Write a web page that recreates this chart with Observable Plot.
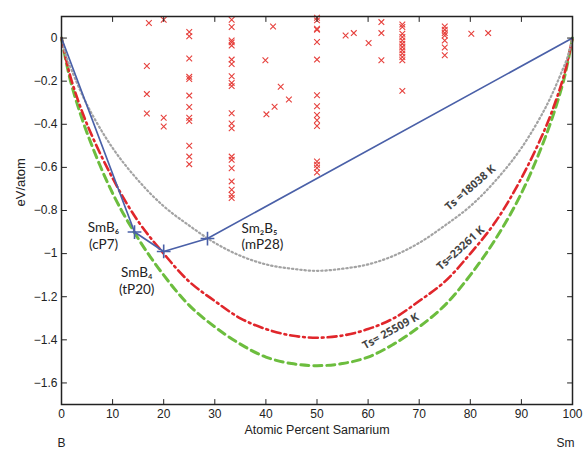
<!DOCTYPE html>
<html>
<head>
<meta charset="utf-8">
<script src="https://cdn.jsdelivr.net/npm/d3@7"></script>
<script src="https://cdn.jsdelivr.net/npm/@observablehq/plot@0.6"></script>
<style>
  body { margin: 0; background: #fff; }
  #chart svg { display: block; }
</style>
</head>
<body>
<div id="chart"></div>
<script>
// ---- tick labels ----
const xTicks = [0, 10, 20, 30, 40, 50, 60, 70, 80, 90, 100];
const yTicks = [0, -0.2, -0.4, -0.6, -0.8, -1, -1.2, -1.4, -1.6];

// ---- convex hull (ground states) ----
const hullPct    = [0, 14.29, 20, 28.57, 100];
const hullEnergy = [0, -0.90, -0.99, -0.93, 0];
const compounds = [
  {name: "SmB\u2086\n(cP7)",  pct: 14.29, energy: -0.90},
  {name: "SmB\u2084\n(tP20)", pct: 20,    energy: -0.99},
  {name: "Sm\u2082B\u2085\n(mP28)", pct: 28.57, energy: -0.93}
];

// ---- mixing curves ----
const curvePct = [0, 1, 2, 5, 10, 15, 20, 25, 30, 35, 40, 45, 50, 55, 60, 65, 70, 75, 80, 85, 90, 95, 98, 99, 100];
const gray18038 = [0, -0.09, -0.15, -0.31, -0.51, -0.66, -0.78, -0.87, -0.95, -1.01, -1.05, -1.07, -1.08, -1.07, -1.05, -1.01, -0.95, -0.87, -0.78, -0.66, -0.51, -0.31, -0.15, -0.09, 0];
const red23261  = [0, -0.11, -0.20, -0.40, -0.65, -0.85, -1.00, -1.13, -1.22, -1.30, -1.35, -1.38, -1.39, -1.38, -1.35, -1.30, -1.22, -1.13, -1.00, -0.85, -0.65, -0.40, -0.20, -0.11, 0];
const green25509 = [0, -0.12, -0.22, -0.44, -0.72, -0.93, -1.10, -1.24, -1.34, -1.42, -1.48, -1.51, -1.52, -1.51, -1.48, -1.42, -1.34, -1.24, -1.10, -0.93, -0.72, -0.44, -0.22, -0.12, 0];

// ---- other (hypothetical) structures, [percent Sm, eV/atom] ----
const structures = [
  [17.1, 0.07], [16.7, -0.13], [16.7, -0.26], [16.7, -0.35],
  [20, 0.085], [20, -0.37], [20, -0.41],
  [25, 0.028], [25, 0.008], [25, -0.095], [25, -0.18], [25, -0.19], [25, -0.267], [25, -0.32],
  [25, -0.37], [25, -0.385], [25, -0.50], [25, -0.55], [25, -0.585],
  [33.3, 0.085], [33.3, 0.051], [33.3, -0.011], [33.3, -0.02], [33.3, -0.035], [33.3, -0.10],
  [33.3, -0.12], [33.3, -0.177], [33.3, -0.208], [33.3, -0.223], [33.3, -0.349], [33.3, -0.396],
  [33.3, -0.419], [33.3, -0.55], [33.3, -0.565], [33.3, -0.604], [33.3, -0.665], [33.3, -0.704],
  [33.3, -0.727], [33.3, -0.742],
  [41.4, 0.054], [39.9, -0.103], [42.9, -0.226], [44.5, -0.285], [41.7, -0.319], [40.1, -0.354],
  [50, 0.094], [50, 0.082], [50, 0.043], [50, 0.039], [50, -0.018], [50, -0.10], [50, -0.265],
  [50, -0.316], [50, -0.357], [50, -0.381], [50, -0.408], [50, -0.573], [50, -0.588], [50, -0.603], [50, -0.624],
  [55.6, 0.012], [57.2, 0.023], [60.1, -0.023], [62.6, 0.074], [62.6, 0.023], [62.6, -0.103],
  [66.7, 0.063], [66.7, 0.051], [66.7, 0.02], [66.7, 0.005], [66.7, -0.011], [66.7, -0.026],
  [66.7, -0.042], [66.7, -0.057], [66.7, -0.072], [66.7, -0.088], [66.7, -0.103], [66.7, -0.245],
  [75, 0.054], [75, 0.039], [75, 0.023], [75, 0.012], [75, -0.011], [75, -0.044], [75, -0.08],
  [80.2, 0.02], [83.5, 0.023]
];

const curveLabels = [
  {text: "Ts =18038 K", pct: 80.0, energy: -0.695, angle: -41},
  {text: "Ts=23261 K",  pct: 78.1, energy: -0.975, angle: -42},
  {text: "Ts= 25509 K", pct: 64.4, energy: -1.36, angle: -29}
];
const endpoints = ["B", "Sm"];

// ---- build tables ----
const hull = hullPct.map((p, i) => ({pct: p, energy: hullEnergy[i]}));
const mk = (arr) => curvePct.map((p, i) => ({pct: p, energy: arr[i]}));
const grayC = mk(gray18038), redC = mk(red23261), greenC = mk(green25509);

const tickShape = {draw(ctx, l) { ctx.moveTo(0, 0); ctx.lineTo(0, -l); }};
const tickStyle = {length: 5, anchor: "start", shape: tickShape, stroke: "#222", strokeWidth: 1};
const fmt = d => d === 0 ? "0" : "\u2212" + Math.abs(d);
const labelFont = "Lato, 'Noto Sans', 'DejaVu Sans', sans-serif";
const curveFont = "'Open Sans', 'Noto Sans', sans-serif";

const chart = Plot.plot({
  width: 584,
  height: 451,
  marginLeft: 61,
  marginRight: 12,
  marginTop: 16,
  marginBottom: 47,
  style: {fontFamily: "'Liberation Sans', Arial, sans-serif", fontSize: "12px", color: "#222", background: "#fff"},
  x: {domain: [0, 100]},
  y: {domain: [-1.7, 0.1]},
  marks: [
    Plot.axisX({ticks: xTicks, tickSize: 0, tickPadding: 5, label: null, fontSize: 12}),
    Plot.axisY({ticks: yTicks, tickSize: 0, tickPadding: 4, label: null, fontSize: 12, tickFormat: fmt}),
    // curves
    Plot.line(greenC, {x: "pct", y: "energy", curve: "catmull-rom", stroke: "#6cbd3e", strokeWidth: 3, strokeDasharray: "8 5"}),
    Plot.line(redC, {x: "pct", y: "energy", curve: "catmull-rom", stroke: "#e0262b", strokeWidth: 2.6, strokeDasharray: "9 4 1.8 4"}),
    Plot.line(grayC, {x: "pct", y: "energy", curve: "catmull-rom", stroke: "#a3a3a3", strokeWidth: 2.2, strokeDasharray: "1.4 2.8"}),
    // structures
    Plot.dot(structures, {x: d => d[0], y: d => d[1], symbol: "times", r: 2.7, stroke: "#e6403c", strokeWidth: 1.1}),
    // hull
    Plot.line(hull, {x: "pct", y: "energy", stroke: "#4a60a8", strokeWidth: 1.7}),
    Plot.dot(compounds, {x: "pct", y: "energy", symbol: "plus", r: 4.5, stroke: "#4a60a8", strokeWidth: 1.6}),
    // compound labels
    Plot.text([compounds[0]], {x: "pct", y: "energy", text: "name", dx: -31, dy: 3, fontSize: 13.5, lineHeight: 1.24, fill: "#222", fontFamily: labelFont}),
    Plot.text([compounds[1]], {x: "pct", y: "energy", text: "name", dx: -27, dy: 29, fontSize: 13.5, lineHeight: 1.24, fill: "#222", fontFamily: labelFont}),
    Plot.text([compounds[2]], {x: "pct", y: "energy", text: "name", dx: 34, dy: -3, textAnchor: "start", fontSize: 13.5, lineHeight: 1.24, fill: "#222", fontFamily: labelFont}),
    // curve labels
    ...curveLabels.map(c => Plot.text([c], {x: "pct", y: "energy", text: "text", rotate: c.angle, fontSize: 11, fontWeight: "bold", fill: "#444", fontFamily: curveFont})),
    // frame and inward ticks
    Plot.frame({stroke: "#222", strokeWidth: 1.5}),
    Plot.vector(xTicks, {x: d => d, frameAnchor: "bottom", rotate: 0, ...tickStyle}),
    Plot.vector(xTicks, {x: d => d, frameAnchor: "top", rotate: 180, ...tickStyle}),
    Plot.vector(yTicks, {y: d => d, frameAnchor: "left", rotate: 90, ...tickStyle}),
    Plot.vector(yTicks, {y: d => d, frameAnchor: "right", rotate: -90, ...tickStyle}),
    // axis titles
    Plot.text(["Atomic Percent Samarium"], {frameAnchor: "bottom", dy: 29, fontSize: 12.5, fill: "#222"}),
    Plot.text(["eV/atom"], {frameAnchor: "left", dx: -41, dy: -4, rotate: -90, fontSize: 13, fill: "#222"}),
    Plot.text([{name: endpoints[0], pct: 0}], {x: "pct", text: "name", frameAnchor: "bottom", dy: 42, fontSize: 12, fill: "#222"}),
    Plot.text([{name: endpoints[1], pct: 100}], {x: "pct", text: "name", frameAnchor: "bottom", dy: 42, dx: 2, textAnchor: "end", fontSize: 12, fill: "#222"})
  ]
});
document.getElementById("chart").appendChild(chart);
</script>
</body>
</html>
